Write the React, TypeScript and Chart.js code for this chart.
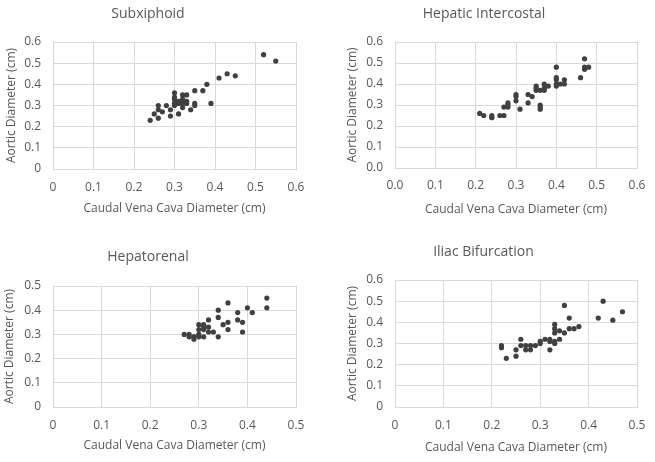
import React, { useEffect, useRef } from "react";
import { Chart, registerables } from "chart.js";

Chart.register(...registerables);

// Subxiphoid window
const subxiphoidCvc = [0.24, 0.25, 0.26, 0.26, 0.26, 0.27, 0.28, 0.29, 0.29, 0.3, 0.3, 0.3, 0.3, 0.3, 0.31, 0.31, 0.31, 0.32, 0.32, 0.32, 0.32, 0.32, 0.33, 0.33, 0.33, 0.34, 0.35, 0.35, 0.35, 0.37, 0.38, 0.39, 0.41, 0.43, 0.45, 0.52, 0.55];
const subxiphoidAo = [0.23, 0.26, 0.3, 0.24, 0.28, 0.27, 0.3, 0.28, 0.25, 0.36, 0.34, 0.33, 0.3, 0.31, 0.26, 0.31, 0.32, 0.35, 0.32, 0.29, 0.31, 0.33, 0.35, 0.31, 0.32, 0.28, 0.37, 0.31, 0.3, 0.37, 0.4, 0.31, 0.43, 0.45, 0.44, 0.54, 0.51];

// Hepatic intercostal window
const hepaticCvc = [0.21, 0.22, 0.24, 0.24, 0.24, 0.26, 0.27, 0.27, 0.28, 0.28, 0.28, 0.3, 0.3, 0.3, 0.31, 0.33, 0.33, 0.34, 0.35, 0.35, 0.35, 0.36, 0.36, 0.36, 0.36, 0.37, 0.37, 0.37, 0.38, 0.4, 0.4, 0.4, 0.4, 0.4, 0.41, 0.42, 0.42, 0.46, 0.47, 0.47, 0.47, 0.48];
const hepaticAo = [0.26, 0.25, 0.25, 0.24, 0.24, 0.25, 0.25, 0.29, 0.29, 0.3, 0.31, 0.35, 0.34, 0.32, 0.28, 0.31, 0.35, 0.34, 0.39, 0.38, 0.37, 0.37, 0.3, 0.29, 0.28, 0.4, 0.38, 0.37, 0.39, 0.48, 0.43, 0.42, 0.4, 0.39, 0.4, 0.42, 0.4, 0.43, 0.52, 0.48, 0.47, 0.48];

// Hepatorenal window
const renalCvc = [0.27, 0.28, 0.28, 0.29, 0.29, 0.29, 0.3, 0.3, 0.3, 0.3, 0.31, 0.31, 0.31, 0.31, 0.32, 0.32, 0.32, 0.33, 0.34, 0.34, 0.34, 0.35, 0.36, 0.36, 0.36, 0.38, 0.38, 0.39, 0.39, 0.4, 0.41, 0.44, 0.44];
const renalAo = [0.3, 0.3, 0.29, 0.29, 0.28, 0.29, 0.34, 0.32, 0.29, 0.3, 0.34, 0.32, 0.29, 0.33, 0.36, 0.33, 0.31, 0.31, 0.4, 0.37, 0.29, 0.34, 0.43, 0.35, 0.32, 0.39, 0.36, 0.35, 0.31, 0.41, 0.39, 0.45, 0.41];

// Iliac bifurcation window
const iliacCvc = [0.22, 0.22, 0.23, 0.25, 0.25, 0.26, 0.26, 0.27, 0.27, 0.28, 0.28, 0.29, 0.3, 0.3, 0.31, 0.32, 0.32, 0.32, 0.33, 0.33, 0.33, 0.33, 0.33, 0.34, 0.34, 0.35, 0.35, 0.36, 0.36, 0.37, 0.38, 0.42, 0.43, 0.45, 0.47];
const iliacAo = [0.29, 0.28, 0.23, 0.27, 0.24, 0.32, 0.29, 0.29, 0.27, 0.29, 0.27, 0.29, 0.31, 0.3, 0.32, 0.32, 0.31, 0.27, 0.39, 0.37, 0.35, 0.31, 0.3, 0.32, 0.36, 0.35, 0.48, 0.42, 0.37, 0.37, 0.38, 0.42, 0.5, 0.41, 0.45];

const ticks06 = ["0", "0.1", "0.2", "0.3", "0.4", "0.5", "0.6"];
const ticks06dec = ["0.0", "0.1", "0.2", "0.3", "0.4", "0.5", "0.6"];
const ticks05 = ["0", "0.1", "0.2", "0.3", "0.4", "0.5"];

const X_TITLE = "Caudal Vena Cava Diameter (cm)";
const Y_TITLE = "Aortic Diameter (cm)";

const FONT = "'Open Sans', 'Noto Sans', sans-serif";
const TEXT = "#595959";
const GRID = "#d9d9d9";

type Box = { left: number; top: number; width: number; height: number };
type Plot = { left: number; right: number; top: number; bottom: number };

type PanelProps = {
  title: string;
  xs: number[];
  ys: number[];
  xTicks: string[];
  yTicks: string[];
  box: Box;
  plot: Plot;
  titleY: number;
  yTitleX: number;
  xLabelY: number;
  xTitleY: number;
};

function Panel(p: PanelProps) {
  const ref = useRef<HTMLCanvasElement | null>(null);

  useEffect(() => {
    if (!ref.current) return;
    const { box, plot } = p;
    const titleSize = 14;
    const titlePadTop = p.titleY - titleSize / 2;
    const titlePadBottom = plot.top - titlePadTop - titleSize;
    const axisTitleLH = 12 * 1.2;
    const points = p.xs.map((x, i) => ({ x, y: p.ys[i] }));

    const chart = new Chart(ref.current, {
      type: "scatter",
      data: {
        datasets: [
          {
            data: points,
            backgroundColor: "#404040",
            borderWidth: 0,
            pointRadius: 2.6,
          },
        ],
      },
      options: {
        responsive: false,
        animation: false,
        devicePixelRatio: 1,
        layout: { padding: { left: 0, top: 0, bottom: 0, right: box.width - plot.right } },
        plugins: {
          legend: { display: false },
          tooltip: { enabled: false },
          title: {
            display: true,
            text: p.title,
            color: TEXT,
            font: { family: FONT, size: titleSize, weight: "normal", lineHeight: 1 },
            padding: { top: titlePadTop, bottom: titlePadBottom },
          },
        },
        scales: {
          x: {
            type: "linear",
            min: 0,
            max: (p.xTicks.length - 1) / 10,
            afterBuildTicks: (s: any) => {
              s.ticks = p.xTicks.map((_, i) => ({ value: i / 10 }));
            },
            afterFit: (s: any) => {
              s.height = box.height - plot.bottom;
              s.paddingLeft = 0;
              s.paddingRight = 0;
            },
            ticks: {
              color: TEXT,
              font: { family: FONT, size: 12 },
              padding: p.xLabelY - plot.bottom - 7.2,
              maxRotation: 0,
              callback: (_v: any, i: number) => p.xTicks[i],
            },
            grid: { color: GRID, drawTicks: false },
            border: { color: GRID },
            title: {
              display: true,
              text: X_TITLE,
              color: TEXT,
              font: { family: FONT, size: 12 },
              padding: { top: 0, bottom: box.height - p.xTitleY - axisTitleLH / 2 },
            },
          },
          y: {
            type: "linear",
            min: 0,
            max: (p.yTicks.length - 1) / 10,
            afterBuildTicks: (s: any) => {
              s.ticks = p.yTicks.map((_, i) => ({ value: i / 10 }));
            },
            afterFit: (s: any) => {
              s.width = plot.left;
              s.paddingTop = 0;
              s.paddingBottom = 0;
            },
            ticks: {
              color: TEXT,
              font: { family: FONT, size: 12 },
              padding: 12,
              callback: (_v: any, i: number) => p.yTicks[i],
            },
            grid: { color: GRID, drawTicks: false },
            border: { color: GRID },
            title: {
              display: true,
              text: Y_TITLE,
              color: TEXT,
              font: { family: FONT, size: 12 },
              padding: { top: p.yTitleX - axisTitleLH / 2, bottom: 0 },
            },
          },
        },
      },
    } as any);

    return () => chart.destroy();
  }, [p]);

  return (
    <canvas
      ref={ref}
      width={p.box.width}
      height={p.box.height}
      style={{
        position: "absolute",
        left: p.box.left,
        top: p.box.top,
        width: p.box.width,
        height: p.box.height,
      }}
    />
  );
}

export default function App() {
  return (
    <div
      style={{
        position: "fixed",
        left: 0,
        top: 0,
        width: 655,
        height: 462,
        background: "#ffffff",
        overflow: "hidden",
      }}
    >
      <Panel
        title="Subxiphoid"
        xs={subxiphoidCvc}
        ys={subxiphoidAo}
        xTicks={ticks06}
        yTicks={ticks06}
        box={{ left: 0, top: 0, width: 310, height: 228 }}
        plot={{ left: 53, right: 296, top: 42, bottom: 169 }}
        titleY={14}
        yTitleX={12}
        xLabelY={188}
        xTitleY={209}
      />
      <Panel
        title="Hepatic Intercostal"
        xs={hepaticCvc}
        ys={hepaticAo}
        xTicks={ticks06dec}
        yTicks={ticks06dec}
        box={{ left: 331, top: 0, width: 324, height: 228 }}
        plot={{ left: 64, right: 306, top: 42, bottom: 168 }}
        titleY={14}
        yTitleX={22}
        xLabelY={186}
        xTitleY={210}
      />
      <Panel
        title="Hepatorenal"
        xs={renalCvc}
        ys={renalAo}
        xTicks={ticks05}
        yTicks={ticks05}
        box={{ left: 0, top: 230, width: 304, height: 232 }}
        plot={{ left: 53, right: 296, top: 56, bottom: 177 }}
        titleY={27}
        yTitleX={10}
        xLabelY={196}
        xTitleY={216}
      />
      <Panel
        title="Iliac Bifurcation"
        xs={iliacCvc}
        ys={iliacAo}
        xTicks={ticks05}
        yTicks={ticks06}
        box={{ left: 330, top: 230, width: 320, height: 232 }}
        plot={{ left: 65, right: 307, top: 50, bottom: 177 }}
        titleY={22}
        yTitleX={23}
        xLabelY={196}
        xTitleY={218}
      />
    </div>
  );
}
